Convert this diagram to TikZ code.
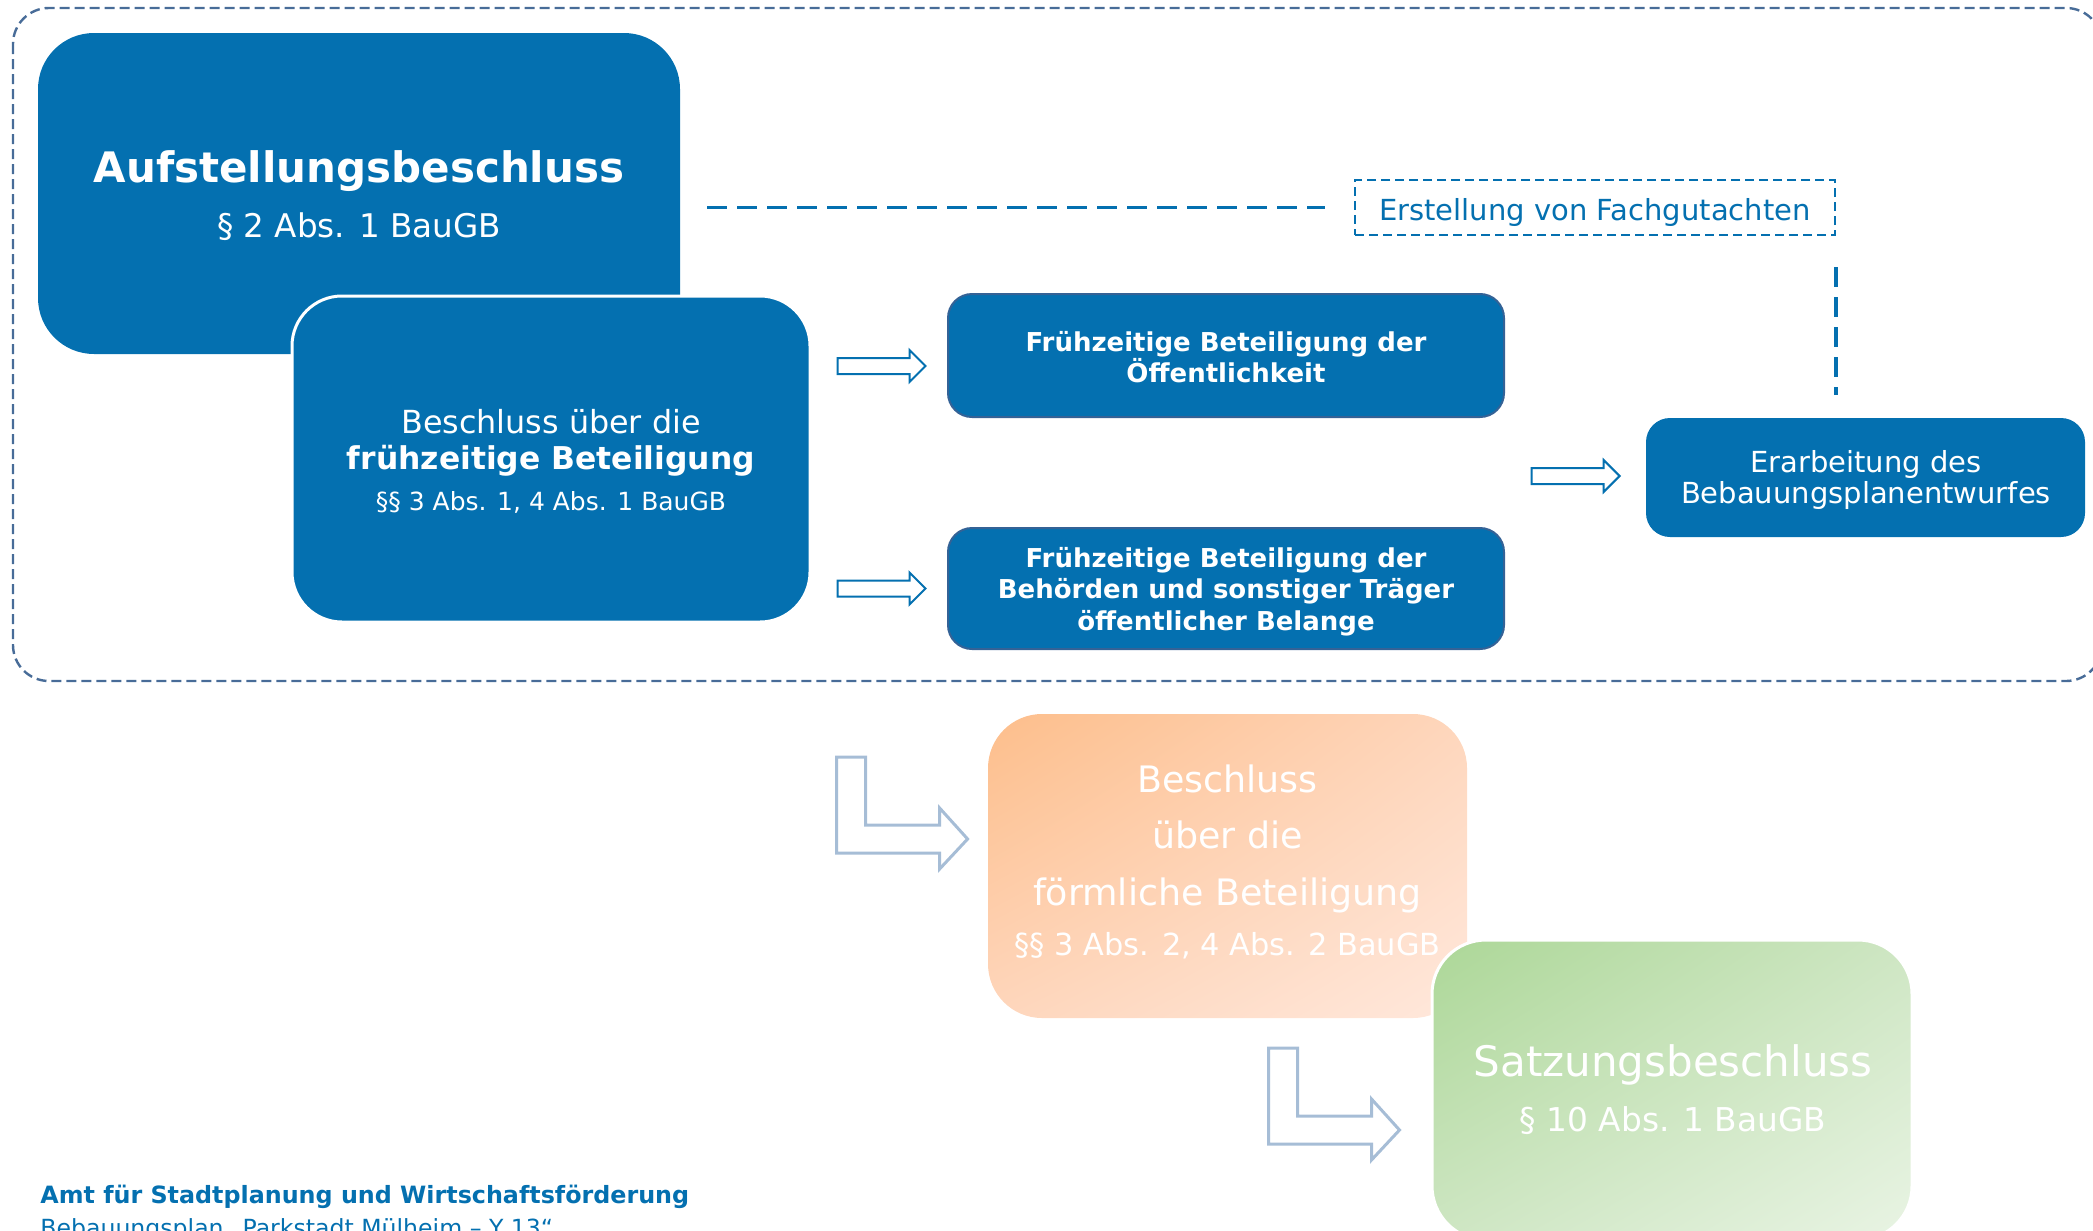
\documentclass[tikz,border=0pt]{standalone}
\usepackage{fontspec}
\setmainfont{DejaVu Sans}
\usetikzlibrary{calc,shadings}
\definecolor{mblue}{RGB}{4,112,176}
\definecolor{mborder}{RGB}{52,98,150}
\definecolor{outerdash}{RGB}{72,108,152}
\definecolor{larrowc}{RGB}{166,189,214}
\definecolor{orA}{RGB}{253,190,139}
\definecolor{orB}{RGB}{254,214,188}
\definecolor{orC}{RGB}{255,232,220}
\definecolor{grA}{RGB}{172,215,151}
\definecolor{grB}{RGB}{206,230,195}
\definecolor{grC}{RGB}{233,244,228}
\tikzset{
  pics/barrow/.style={code={\draw[blockarrow] (0,-8) -- (72,-8) -- (72,-16) -- (88,0) -- (72,16) -- (72,8) -- (0,8) -- cycle;}},
  pics/larrow/.style={code={\draw[larrowstyle] (0,0) -- (29,0) -- (29,68) -- (103,68) -- (103,51) -- (131,82) -- (103,112) -- (103,96) -- (0,96) -- cycle;}}
}
\begin{document}
\begin{tikzpicture}[x=0.5pt,y=-0.5pt,
  bigbox/.style={fill=mblue, rounded corners=28pt, inner sep=0},
  smallbox/.style={fill=mblue, draw=mborder, line width=1pt, rounded corners=12pt, inner sep=0},
  txt/.style={anchor=base, inner sep=0, text=white, align=center},
  dline/.style={draw=mblue, line width=1.6pt, dash pattern=on 10pt off 5pt},
  blockarrow/.style={draw=mblue, line width=1pt, fill=white},
  larrowstyle/.style={draw=larrowc, line width=1.5pt, fill=white}]
\useasboundingbox (0,0) rectangle (2093,1231);
\clip (0,0) rectangle (2093,1231);

% outer dashed frame
\draw[outerdash, line width=1.2pt, dash pattern=on 5pt off 2.5pt, rounded corners=18pt] (13,8) rectangle (2102,681);

% main boxes
\node[bigbox, minimum width=321pt, minimum height=160.5pt] (auf) at (359,193.5) {};
\node[txt, font=\bfseries\fontsize{21}{25}\selectfont] (auf1) at (359,182) {Aufstellungsbeschluss};
\node[txt, font=\fontsize{16.3}{20}\selectfont] (auf2) at (359,237) {§ 2 Abs. 1 BauGB};

\node[bigbox, draw=white, line width=1.5pt, rounded corners=25pt, minimum width=259pt, minimum height=163pt] (bes) at (551,459) {};
\node[txt, font=\fontsize{15.9}{19}\selectfont] (bes1) at (551,433) {Beschluss über die};
\node[txt, font=\bfseries\fontsize{15.7}{19}\selectfont] (bes2) at (551,469) {frühzeitige Beteiligung};
\node[txt, font=\fontsize{12.5}{15}\selectfont] (bes3) at (551,510) {§§ 3 Abs. 1, 4 Abs. 1 BauGB};

\node[smallbox, minimum width=278pt, minimum height=61.5pt] (oef) at (1226,355.5) {};
\node[txt, font=\bfseries\fontsize{13}{16}\selectfont] (oef1) at (1226,351) {Frühzeitige Beteiligung der};
\node[txt, font=\bfseries\fontsize{13}{16}\selectfont] (oef2) at (1226,382) {Öffentlichkeit};

\node[smallbox, minimum width=278pt, minimum height=60.5pt] (beh) at (1226,588.5) {};
\node[txt, font=\bfseries\fontsize{13}{16}\selectfont] (beh1) at (1226,567) {Frühzeitige Beteiligung der};
\node[txt, font=\bfseries\fontsize{13}{16}\selectfont] (beh2) at (1226,598.5) {Behörden und sonstiger Träger};
\node[txt, font=\bfseries\fontsize{13}{16}\selectfont] (beh3) at (1226,630) {öffentlicher Belange};

\node[fill=mblue, rounded corners=12pt, inner sep=0, minimum width=219.5pt, minimum height=59.5pt] (erar) at (1865.5,477.5) {};
\node[txt, font=\fontsize{14.5}{17}\selectfont] (erar1) at (1866,472) {Erarbeitung des};
\node[txt, font=\fontsize{14.5}{17}\selectfont] (erar2) at (1866,503) {Bebauungsplanentwurfes};

\node[draw=mblue, line width=1pt, dash pattern=on 4.5pt off 2.5pt, inner sep=0, minimum width=240pt, minimum height=27.5pt] (fach) at (1595,207.5) {};
\node[txt, text=mblue, font=\fontsize{14.5}{17}\selectfont] (fach1) at (1595,220) {Erstellung von Fachgutachten};

% dashed connectors
\draw[dline] ($(auf.east |- fach.west)+(27,0)$) -- ($(fach.west)+(-29,0)$);
\draw[dline] ($(fach.south east)+(0,31)$) -- ($(fach.south east |- erar.north)+(0,-23)$);

% block arrows
\pic at ($(bes.east |- oef.west)+(26,10.5)$) {barrow};
\pic at ($(bes.east |- beh.west)+(26,0)$) {barrow};
\pic at ($(erar.west)+(-114,-1.5)$) {barrow};

% lower part
\node[rounded corners=27pt, inner sep=0, minimum width=239.5pt, minimum height=152pt,
      upper left=orA, upper right=orB, lower left=orB, lower right=orC] (orb) at (1227.5,866) {};
\node[txt, font=\fontsize{18.2}{22}\selectfont] (orb1) at (1227.5,792) {Beschluss};
\node[txt, font=\fontsize{18.2}{22}\selectfont] (orb2) at (1227.5,848) {über die};
\node[txt, font=\fontsize{18.2}{22}\selectfont] (orb3) at (1227.5,905) {förmliche Beteiligung};
\node[txt, font=\fontsize{15.2}{18}\selectfont] (orb4) at (1227.5,955) {§§ 3 Abs. 2, 4 Abs. 2 BauGB};

\node[rounded corners=27pt, draw=white, line width=1.5pt, inner sep=0, minimum width=240pt, minimum height=150pt,
      upper left=grA, upper right=grB, lower left=grB, lower right=grC] (grn) at (1672,1090) {};
\node[txt, font=\fontsize{21}{25}\selectfont] (grn1) at (1673,1076) {Satzungsbeschluss};
\node[txt, font=\fontsize{16.4}{20}\selectfont] (grn2) at (1673,1131) {§ 10 Abs. 1 BauGB};

\pic at ($(orb.west)+(-151,-109)$) {larrow};
\pic at ($(grn.west)+(-162,-42)$) {larrow};

% footer
\node[anchor=base west, inner sep=0, text=mblue, font=\bfseries\fontsize{11.9}{14}\selectfont] (amt) at (40,1203) {Amt für Stadtplanung und Wirtschaftsförderung};
\node[anchor=base west, inner sep=0, text=mblue, font=\fontsize{11.8}{14}\selectfont] (bplan) at (40,1236) {Bebauungsplan „Parkstadt Mülheim – Y 13“};
\end{tikzpicture}
\end{document}
